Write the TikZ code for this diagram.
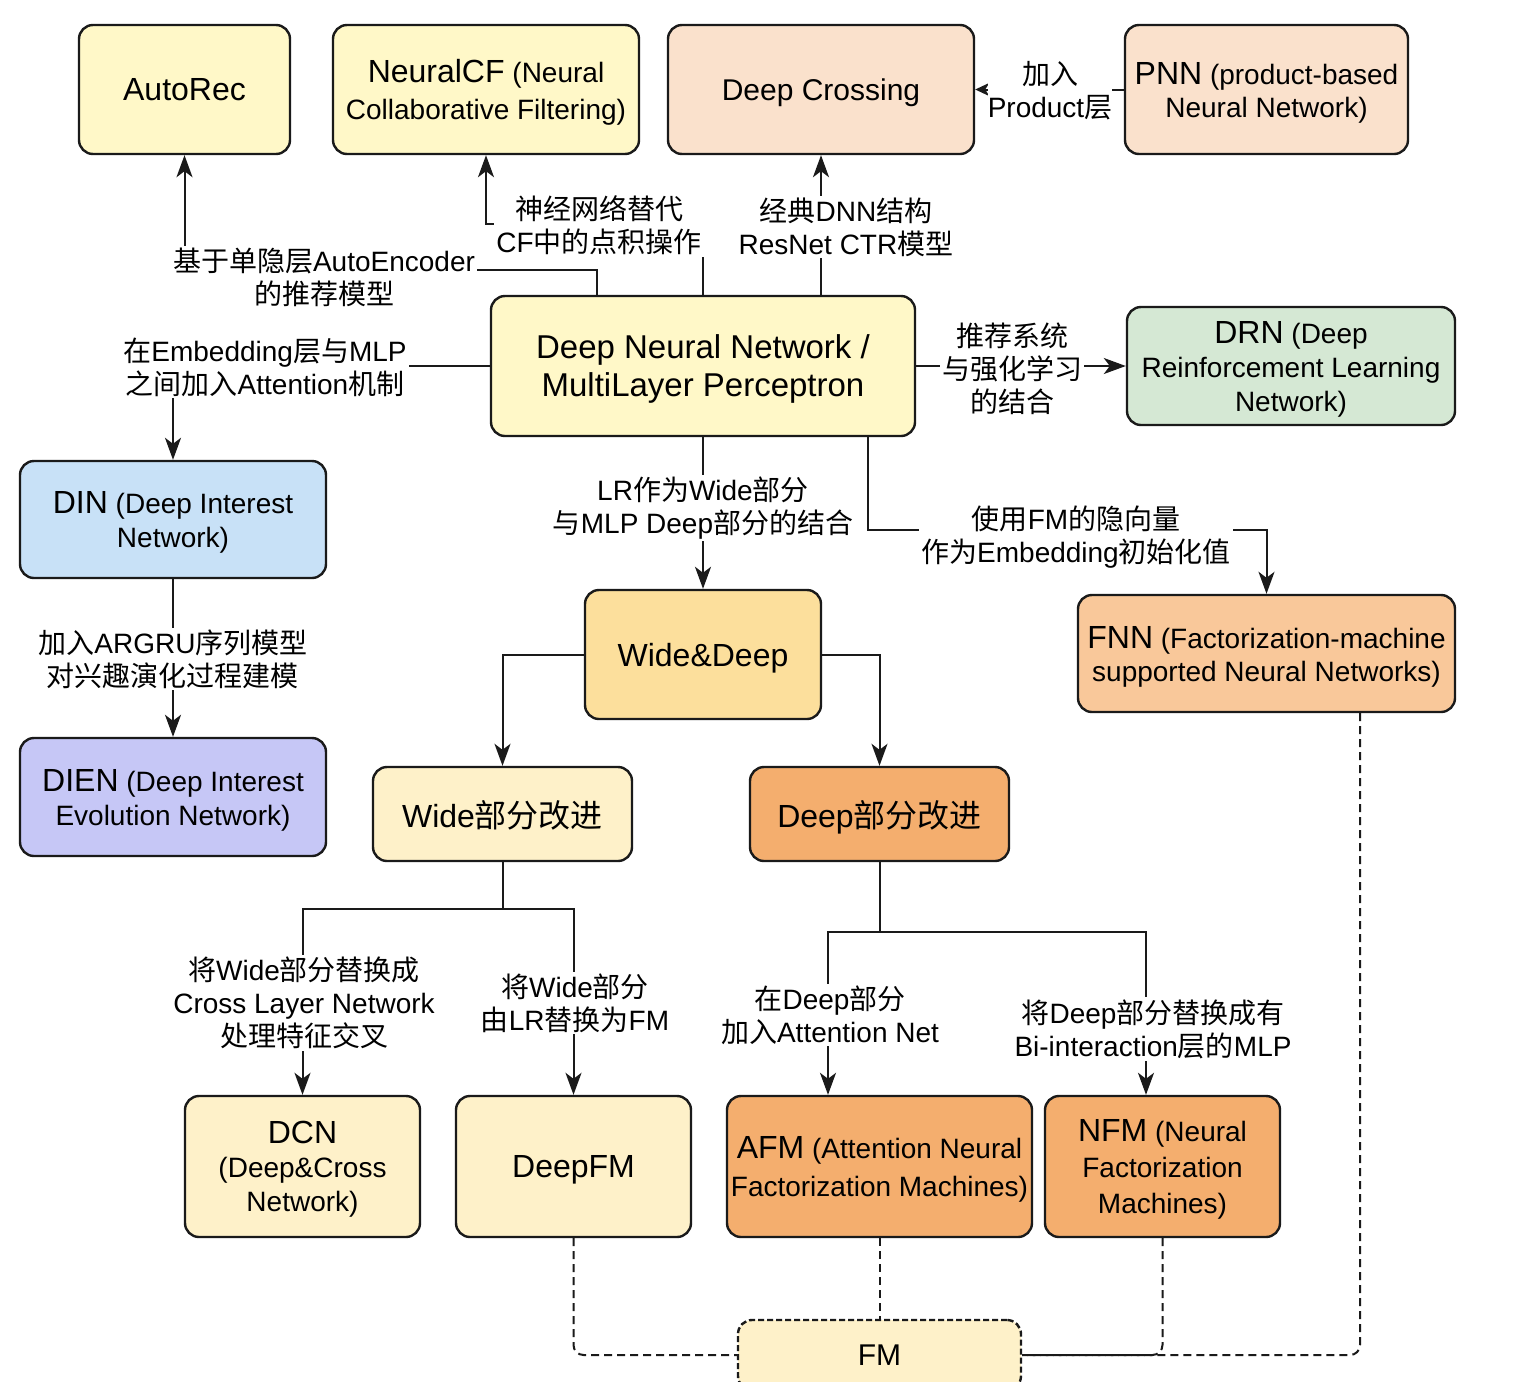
\documentclass[tikz,border=0pt]{standalone}
\usepackage{fontspec}
\setmainfont{Liberation Sans}
\newfontfamily\cjkfont{Noto Sans CJK SC}
\newcommand\cj[1]{{\cjkfont #1}}
\usetikzlibrary{arrows.meta}
\definecolor{cYel}{HTML}{FFF8C8}
\definecolor{cPeach}{HTML}{FAE1CC}
\definecolor{cGreen}{HTML}{D5E8D4}
\definecolor{cBlue}{HTML}{C8E1F7}
\definecolor{cLav}{HTML}{C6C7F6}
\definecolor{cGold}{HTML}{FCDF9C}
\definecolor{cApri}{HTML}{F9C89A}
\definecolor{cCream}{HTML}{FEF1C9}
\definecolor{cOrange}{HTML}{F4AE6E}
\definecolor{cLine}{HTML}{1A1A1A}
\newcommand\acr[1]{{\fontsize{16}{17}\selectfont #1}}
\begin{document}
\begin{tikzpicture}[x=0.5pt,y=-0.5pt,
  box/.style={draw=cLine, line width=1.2pt, rounded corners=7pt, align=center, inner sep=0pt, text depth=-2.5pt, font=\fontsize{14}{17}\selectfont},
  conn/.style={draw=cLine, line width=1pt, -{Stealth[length=11pt,width=8pt,inset=3pt]}},
  shortconn/.style={draw=cLine, line width=1pt, -{Stealth[length=7pt,width=6.5pt,inset=2pt]}},
  dashline/.style={draw=cLine, line width=1pt, dash pattern=on 4pt off 2.5pt, rounded corners=5pt},
  lbl/.style={fill=white, inner sep=1pt, align=center, font=\fontsize{14}{16.5}\selectfont}
]
\useasboundingbox (0,0) rectangle (1516,1382);
\clip (0,0) rectangle (1516,1382);
\fill[white] (0,0) rectangle (1516,1382);

% boxes
\node[box, fill=cYel, minimum width=105.5pt, minimum height=64.5pt, font=\fontsize{16}{19}\selectfont] (AutoRec) at (184.5,89.5) {AutoRec};
\node[box, fill=cYel, minimum width=153pt, minimum height=64.5pt, font=\fontsize{14}{18.5}\selectfont] (NeuralCF) at (486,89.5) {\acr{NeuralCF} (Neural\\Collaborative Filtering)};
\node[box, fill=cPeach, minimum width=153pt, minimum height=64.5pt, font=\fontsize{15}{18}\selectfont] (DeepCrossing) at (821,89.5) {Deep Crossing};
\node[box, fill=cPeach, minimum width=141.5pt, minimum height=64.5pt, font=\fontsize{14}{16.5}\selectfont] (PNN) at (1266.5,89.5) {\acr{PNN} (product-based\\Neural Network)};
\node[box, fill=cYel, minimum width=212pt, minimum height=70pt, font=\fontsize{16.5}{19}\selectfont] (DNN) at (703,366) {Deep Neural Network /\\MultiLayer Perceptron};
\node[box, fill=cGreen, minimum width=164pt, minimum height=59pt] (DRN) at (1291,366) {\acr{DRN} (Deep\\Reinforcement Learning\\Network)};
\node[box, fill=cBlue, minimum width=153pt, minimum height=58.5pt] (DIN) at (173,519.5) {\acr{DIN} (Deep Interest\\Network)};
\node[box, fill=cLav, minimum width=153pt, minimum height=59pt] (DIEN) at (173,797) {\acr{DIEN} (Deep Interest\\Evolution Network)};
\node[box, fill=cGold, minimum width=118pt, minimum height=64.5pt, font=\fontsize{16}{19}\selectfont] (WD) at (703,654.5) {Wide\&Deep};
\node[box, fill=cApri, minimum width=188.5pt, minimum height=58.5pt, font=\fontsize{14}{16.5}\selectfont] (FNN) at (1266.5,653.5) {\acr{FNN} (Factorization-machine\\supported Neural Networks)};
\node[box, fill=cCream, minimum width=129.5pt, minimum height=47pt, font=\fontsize{16}{19}\selectfont] (WideImp) at (502.5,814) {Wide\cj{部分改进}};
\node[box, fill=cOrange, minimum width=129.5pt, minimum height=47pt, font=\fontsize{16}{19}\selectfont] (DeepImp) at (879.5,814) {Deep\cj{部分改进}};
\node[box, fill=cCream, minimum width=117.5pt, minimum height=70.5pt] (DCN) at (302.5,1166.5) {\acr{DCN}\\(Deep\&Cross\\Network)};
\node[box, fill=cCream, minimum width=117.5pt, minimum height=70.5pt, font=\fontsize{16}{19}\selectfont] (DeepFM) at (573.5,1166.5) {DeepFM};
\node[box, fill=cOrange, minimum width=152.5pt, minimum height=70.5pt, font=\fontsize{14}{19}\selectfont] (AFM) at (879.5,1166.5) {\acr{AFM} (Attention Neural\\Factorization Machines)};
\node[box, fill=cOrange, minimum width=117.5pt, minimum height=70.5pt, font=\fontsize{14}{18}\selectfont] (NFM) at (1162.5,1166.5) {\acr{NFM} (Neural\\Factorization\\Machines)};
\node[box, fill=cCream, dash pattern=on 3pt off 1.5pt, minimum width=141.5pt, minimum height=35pt, font=\fontsize{15}{18}\selectfont] (FM) at (879.5,1355) {FM};

% bend coordinates
\coordinate (b1) at (597,270);
\coordinate (b2) at (703,224);
\coordinate (b3) at (868,530);
\coordinate (b5) at (828,932);
\coordinate (b6) at (1146,932);
\coordinate (b7) at (1360,700);

% connectors
\draw[conn] (DNN.north -| b1) -- (b1) -| (AutoRec.south);
\draw[conn] (DNN.north -| b2) -- (b2) -| (NeuralCF.south);
\draw[conn] (DNN.north -| DeepCrossing.south) -- (DeepCrossing.south);
\draw[shortconn] (PNN.west) -- (DeepCrossing.east);
\draw[conn] (DNN.west) -| (DIN.north);
\draw[conn] (DNN.east) -- (DRN.west);
\draw[conn] (DNN.south) -- (WD.north);
\draw[conn] (DNN.south -| b3) -- (b3) -| (FNN.north);
\draw[conn] (DIN.south) -- (DIEN.north);
\draw[conn] (WD.west) -| (WideImp.north);
\draw[conn] (WD.east) -| (DeepImp.north);
\draw[conn] (WideImp.south) -- ++(0,47) -| (DCN.north);
\draw[conn] (WideImp.south) -- ++(0,47) -| (DeepFM.north);
\draw[conn] (DeepImp.south) |- (b5) -- (AFM.north -| b5);
\draw[conn] (DeepImp.south) |- (b6) -- (NFM.north -| b6);

% dashed links to FM
\draw[dashline] (DeepFM.south) |- (FM.west);
\draw[dashline] (AFM.south) -- (FM.north);
\draw[dashline] (NFM.south) |- (FM.east);
\draw[dashline] (FNN.south -| b7) |- (FM.east);

% labels
\node[lbl] (L1) at (324,277) {\cj{基于单隐层}AutoEncoder\\\cj{的推荐模型}};
\node[lbl] (L2) at (599,225) {\cj{神经网络替代}\\CF\cj{中的点积操作}};
\node[lbl] (L3) at (846,227) {\cj{经典}DNN\cj{结构}\\ResNet CTR\cj{模型}};
\node[lbl, inner xsep=0pt] (L4) at (1050,91) {\cj{加入}\\Product\cj{层}};
\node[lbl] (L5) at (265,367) {\cj{在}Embedding\cj{层与}MLP\\\cj{之间加入}Attention\cj{机制}};
\node[lbl] (L6) at (1012,369) {\cj{推荐系统}\\\cj{与强化学习}\\\cj{的结合}};
\node[lbl] (L7) at (703,508) {LR\cj{作为}Wide\cj{部分}\\\cj{与}MLP Deep\cj{部分的结合}};
\node[lbl] (L8) at (1076,537) {\cj{使用}FM\cj{的隐向量}\\\cj{作为}Embedding\cj{初始化值}};
\node[lbl] (L9) at (173,659) {\cj{加入}ARGRU\cj{序列模型}\\\cj{对兴趣演化过程建模}};
\node[lbl] (L10) at (304,1003) {\cj{将}Wide\cj{部分替换成}\\Cross Layer Network\\\cj{处理特征交叉}};
\node[lbl] (L11) at (575,1003) {\cj{将}Wide\cj{部分}\\\cj{由}LR\cj{替换为}FM};
\node[lbl] (L12) at (830,1015) {\cj{在}Deep\cj{部分}\\\cj{加入}Attention Net};
\node[lbl] (L13) at (1153,1029) {\cj{将}Deep\cj{部分替换成有}\\Bi-interaction\cj{层的}MLP};
\end{tikzpicture}
\end{document}
